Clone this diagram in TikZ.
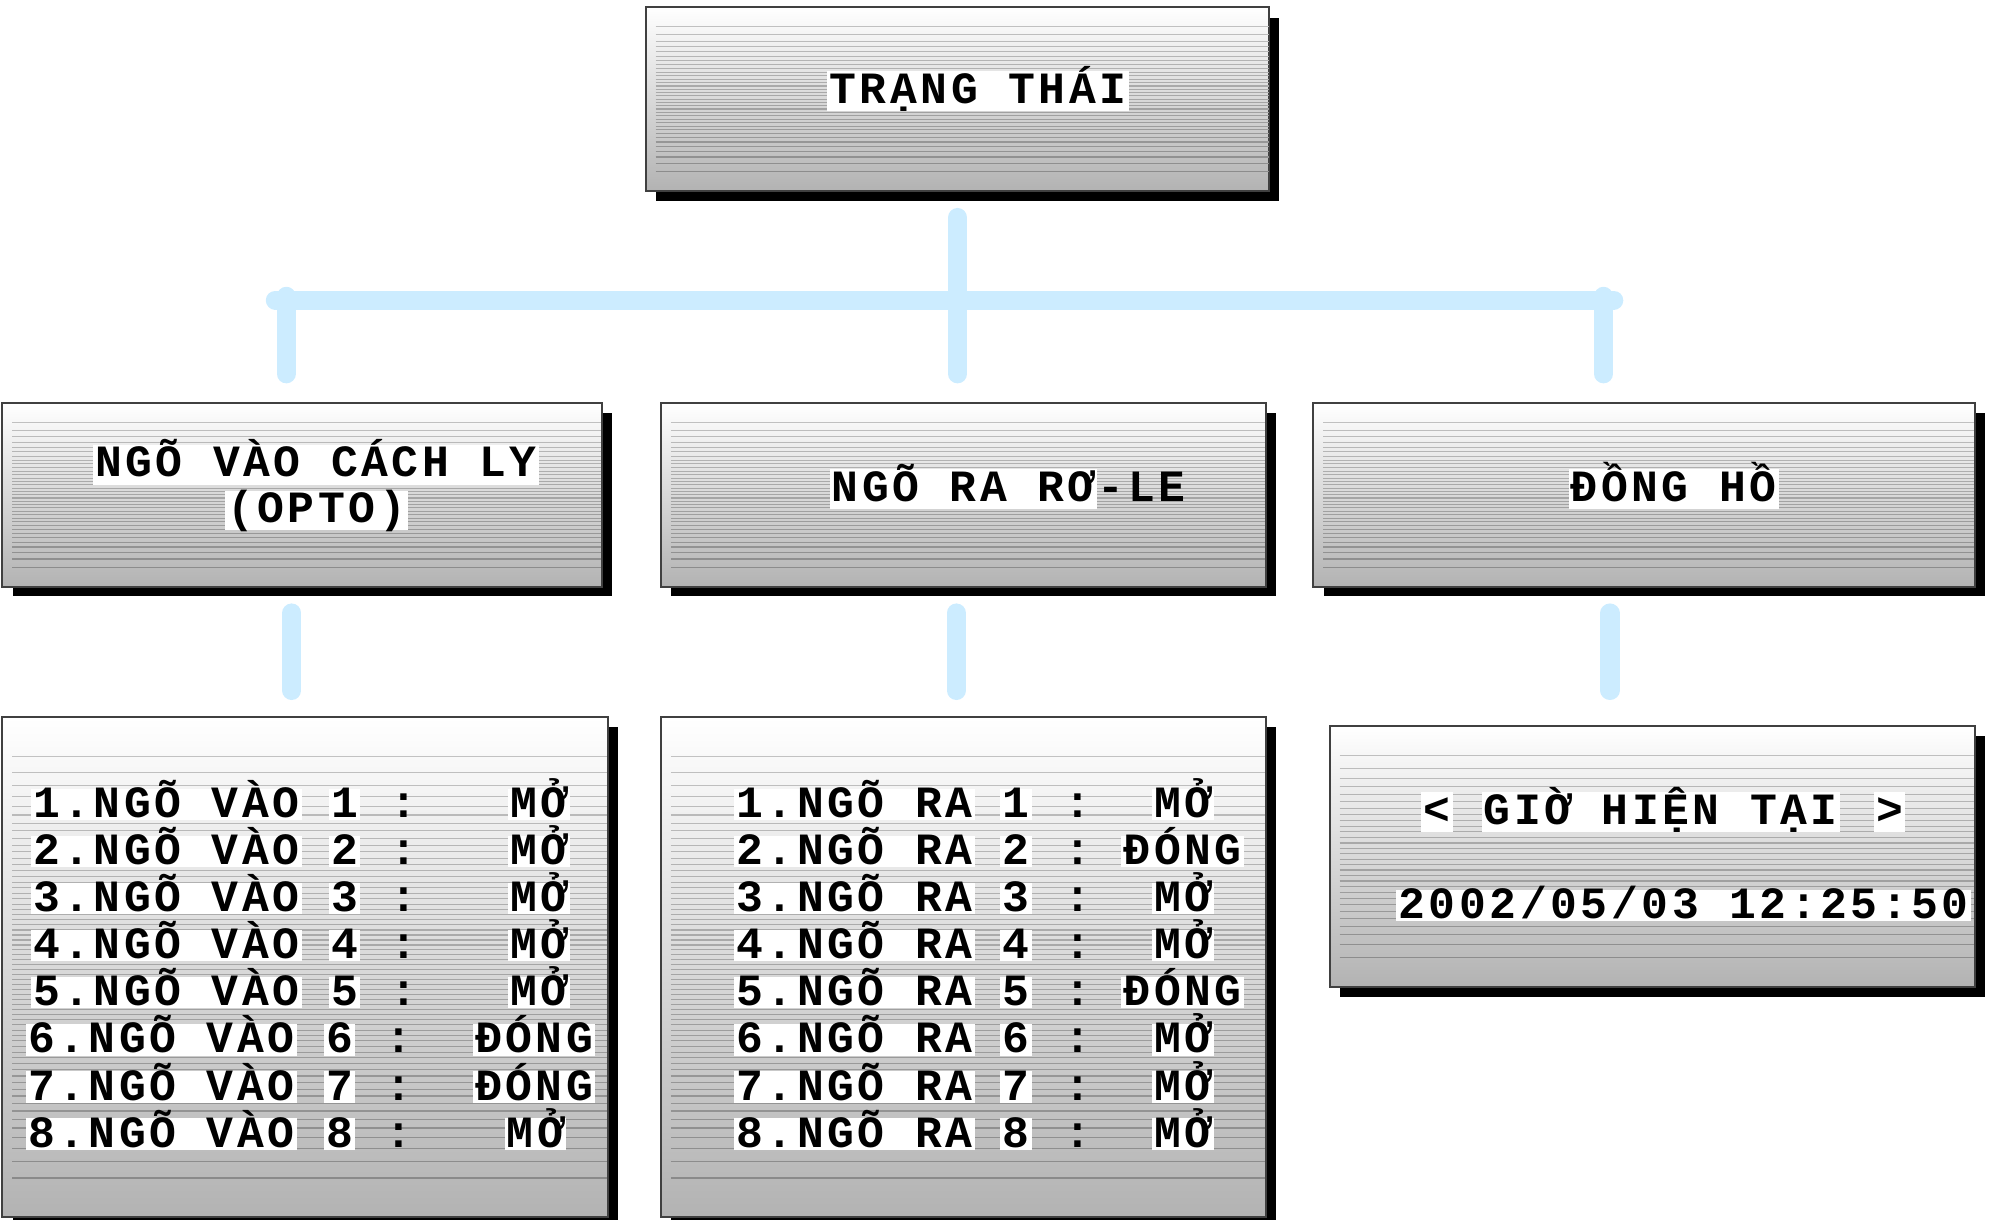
\documentclass[tikz,border=0pt]{standalone}
\usepackage{fontspec}
\newfontfamily\mono[LetterSpace=8]{Liberation Mono}
\usetikzlibrary{calc,fit}
\definecolor{connblue}{RGB}{204,236,255}
\tikzset{
  panel/.style={draw=black!75, line width=0.6pt, top color=white, bottom color=black!30, inner sep=0pt},
  stripe/.style={line width=0.5pt},
  conn/.style={draw=connblue, line width=0.3cm, line cap=round},
  txt/.style={font=\mono\bfseries\fontsize{20}{24}\selectfont, inner sep=0pt, anchor=base, text=black},
  hl/.style={txt, fill=white, text height=0.45cm, text depth=0.04cm, inner xsep=1pt},
  hh/.style={txt, fill=white, text height=0.5cm, text depth=0.12cm, inner xsep=1pt},
}
\newcommand\panelbox[6]{%
  \fill[black] (#2+8,#3+8) rectangle (#4+8,#5+8);
  \node[panel, fit={(#2,#3) (#4,#5)}] (#1) {};
  \foreach \k in {1,...,#6}{%
    \pgfmathsetmacro\stT{acos(1-2*\k/(#6+1))/180}%
    \pgfmathsetmacro\stC{22+26*\stT}%
    \draw[stripe, draw=black!\stC] ($(#1.north west)!\stT!(#1.south west)+(8,0)$) -- ($(#1.north east)!\stT!(#1.south east)+(-1,0)$);
  }%
  \draw[draw=black!75, line width=0.6pt] (#1.north west) rectangle (#1.south east);
}
\begin{document}
\begin{tikzpicture}[x=0.02cm, y=-0.02cm]
\useasboundingbox (0,0) rectangle (1568,959);
% panels
\panelbox{top}{508}{6}{998}{150}{35}
\panelbox{l1}{2}{317}{473}{461}{35}
\panelbox{m1}{520}{317}{995}{461}{35}
\panelbox{r1}{1033}{317}{1553}{461}{35}
\panelbox{l2}{2}{564}{478}{957}{64}
\panelbox{m2}{520}{564}{995}{957}{64}
\panelbox{r2}{1046}{571}{1553}{776}{30}
% connectors
\coordinate (barL) at (216.5,236);
\coordinate (barR) at (1269,236);
\coordinate (jL) at (225,233);
\coordinate (jR) at (1261,233);
\coordinate (dL) at (229.5,0);
\coordinate (dM) at (752,0);
\coordinate (dR) at (1266,0);
\draw[conn] (barL) -- (barR);
\draw[conn, shorten <=0.41cm, shorten >=0.45cm] (top.south) -- (top.south |- m1.north);
\draw[conn, shorten >=0.45cm] (jL) -- (jL |- l1.north);
\draw[conn, shorten >=0.45cm] (jR) -- (jR |- r1.north);
\draw[conn, shorten <=0.41cm, shorten >=0.41cm] (l1.south -| dL) -- (l2.north -| dL);
\draw[conn, shorten <=0.41cm, shorten >=0.41cm] (m1.south -| dM) -- (m2.north -| dM);
\draw[conn, shorten <=0.41cm, shorten >=0.55cm] (r1.south -| dR) -- (r2.north -| dR);
% headings
\node[hh] (tT) at (769,81) {TRẠNG THÁI};
\node[hh] (l1a) at (248.5,375) {NGÕ VÀO CÁCH LY};
\node[hh] (l1b) at (249,411) {(OPTO)};
\node[hh, anchor=base west] (m1a) at (652,394) {NGÕ RA RƠ};
\node[txt, anchor=base west] (m1b) at (m1a.base east) {-LE};
\node[hh] (r1a) at (1316,394) {ĐỒNG HỒ};
\node[hh] (r2lt) at (1130,648) {<};
\node[hh] (r2a) at (1306,648) {GIỜ HIỆN TẠI};
\node[hh] (r2gt) at (1486,648) {>};
\node[hl] (r2d) at (1324,722) {2002/05/03 12:25:50};
% left list
\foreach \st/\dx/\sx [count=\r] in {MỞ/0/424, MỞ/0/424, MỞ/0/424, MỞ/0/424, MỞ/0/424, ĐÓNG/-4/420, ĐÓNG/-4/420, MỞ/-4/421}{
  \pgfmathsetmacro\yy{643+(\r-1)*37}
  \node[hl, anchor=base west] (la\r) at (24+\dx,\yy) {\r.NGÕ VÀO};
  \node[hl] (ld\r) at (271+\dx,\yy) {\r};
  \node[txt] (lc\r) at (318+\dx,\yy) {:};
  \node[hl] (ls\r) at (\sx,\yy) {\st};
}
% middle list
\foreach \st [count=\r] in {MỞ, ĐÓNG, MỞ, MỞ, ĐÓNG, MỞ, MỞ, MỞ}{
  \pgfmathsetmacro\yy{643+(\r-1)*37}
  \node[hl, anchor=base west] (ma\r) at (577,\yy) {\r.NGÕ RA};
  \node[hl] (md\r) at (799,\yy) {\r};
  \node[txt] (mc\r) at (848,\yy) {:};
  \node[hl] (ms\r) at (930,\yy) {\st};
}
\end{tikzpicture}
\end{document}
